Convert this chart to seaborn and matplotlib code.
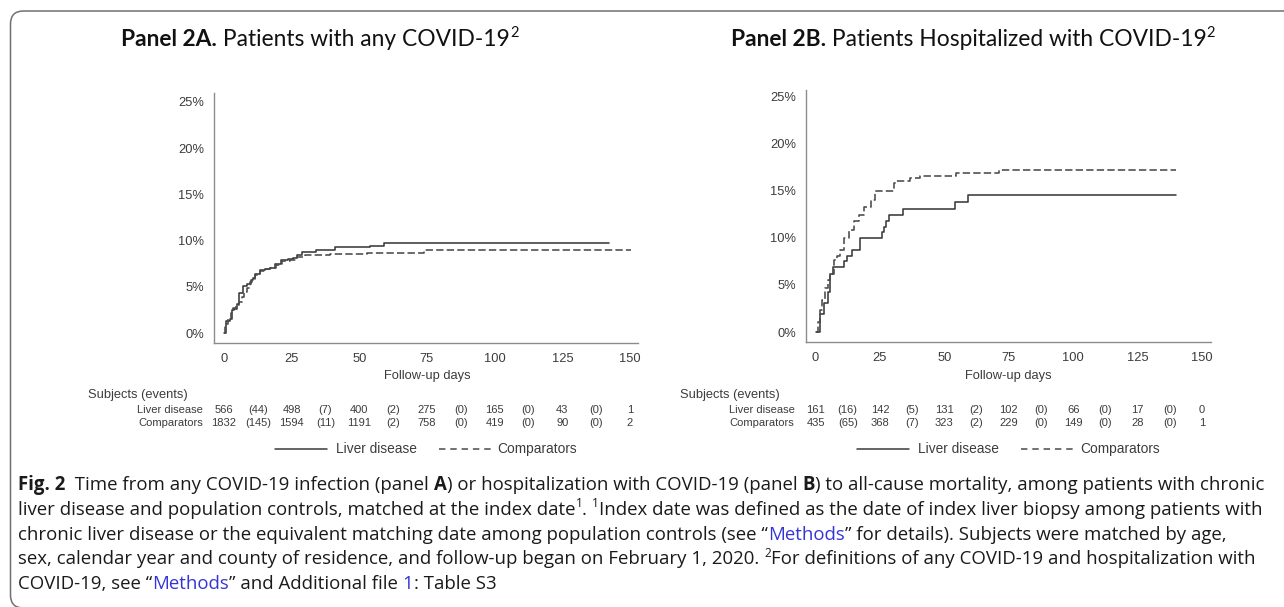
import numpy as np
import pandas as pd
import matplotlib
matplotlib.use("Agg")
import matplotlib.pyplot as plt
import seaborn as sns
from matplotlib import font_manager
from matplotlib.lines import Line2D
from matplotlib.patches import FancyBboxPatch
import matplotlib.transforms as mtransforms

# ---------------- data ----------------
x_ticks = [0, 25, 50, 75, 100, 125, 150]
y_ticks = [0, 5, 10, 15, 20, 25]
groups = ["Liver disease", "Comparators"]

# Panel A: any COVID-19 (cumulative mortality, %)
a_liver_days = [0, 0.7, 2.2, 3.0, 3.8, 4.7, 5.7, 6.9, 8.4, 9.9, 10.8, 11.6, 13.3, 15.0, 17.0,
                18.9, 21.0, 23.5, 25.5, 26.9, 28.8, 34.0, 40.9, 54.1, 59.0, 142.3]
a_liver_pct = [0, 1.35, 1.5, 2.5, 2.6, 3.1, 4.3, 5.1, 5.3, 5.7, 5.9, 6.4, 6.8, 6.9, 7.0,
               7.5, 7.9, 8.0, 8.1, 8.4, 8.8, 9.0, 9.3, 9.45, 9.7, 9.7]
a_comp_days = [0, 0.5, 1.5, 2.5, 3.5, 4.5, 5.5, 6.5, 7.5, 8.4, 9.6, 10.5, 11.6, 13.3, 15.0,
               17.0, 19.3, 21.4, 24.4, 26.9, 30.0, 39.3, 52.8, 73.8, 150.4]
a_comp_pct = [0, 1.0, 1.5, 2.2, 2.7, 3.0, 3.4, 3.9, 4.4, 4.9, 5.5, 5.8, 6.3, 6.7, 6.9,
              7.0, 7.4, 7.8, 7.9, 8.2, 8.4, 8.6, 8.7, 8.95, 8.95]

# Panel B: hospitalized with COVID-19
b_liver_days = [0, 1.9, 3.2, 5.0, 5.8, 6.8, 11.0, 12.3, 14.0, 17.1, 25.8, 26.7, 27.4, 28.4,
                34.0, 54.0, 59.0, 140.0]
b_liver_pct = [0, 1.9, 3.1, 4.3, 6.2, 6.9, 7.5, 8.1, 8.7, 10.0, 10.6, 11.2, 11.8, 12.4,
               13.1, 13.8, 14.5, 14.5]
b_comp_days = [0, 1.0, 1.7, 2.6, 3.6, 4.8, 5.8, 7.1, 8.4, 9.7, 11.0, 12.9, 14.9, 16.8, 19.0,
               21.7, 23.0, 30.4, 31.4, 36.8, 40.7, 54.5, 71.1, 140.0]
b_comp_pct = [0, 1.1, 2.3, 3.4, 4.7, 5.5, 6.2, 7.6, 8.1, 8.7, 10.0, 10.8, 11.8, 12.4, 13.3,
              14.0, 15.0, 15.8, 16.0, 16.4, 16.6, 16.9, 17.2, 17.2]

# risk tables: subjects at each tick, (events) in each interval
a_liver_n = [566, 498, 400, 275, 165, 43, 1]
a_liver_ev = [44, 7, 2, 0, 0, 0]
a_comp_n = [1832, 1594, 1191, 758, 419, 90, 2]
a_comp_ev = [145, 11, 2, 0, 0, 0]
b_liver_n = [161, 142, 131, 102, 66, 17, 0]
b_liver_ev = [16, 5, 2, 0, 0, 0]
b_comp_n = [435, 368, 323, 229, 149, 28, 1]
b_comp_ev = [65, 7, 2, 0, 0, 0]

title_a = [("Panel 2A.", "b"), (" Patients with any COVID-19", "n"), ("2", "sup")]
title_b = [("Panel 2B.", "b"), (" Patients Hospitalized with COVID-19", "n"), ("2", "sup")]
x_label = "Follow-up days"
risk_header = "Subjects (events)"

caption_lines = [
    [("Fig. 2", "b"), ("  Time from any COVID-19 infection (panel ", "n"), ("A", "b"),
     (") or hospitalization with COVID-19 (panel ", "n"), ("B", "b"),
     (") to all-cause mortality, among patients with chronic", "n")],
    [("liver disease and population controls, matched at the index date", "n"), ("1", "sup"),
     (". ", "n"), ("1", "sup"),
     ("Index date was defined as the date of index liver biopsy among patients with", "n")],
    [("chronic liver disease or the equivalent matching date among population controls (see \u201c", "n"),
     ("Methods", "blue"), ("\u201d for details). Subjects were matched by age,", "n")],
    [("sex, calendar year and county of residence, and follow-up began on February 1, 2020. ", "n"),
     ("2", "sup"), ("For definitions of any COVID-19 and hospitalization with", "n")],
    [("COVID-19, see \u201c", "n"), ("Methods", "blue"), ("\u201d and Additional file ", "n"),
     ("1", "blue"), (": Table S3", "n")],
]

# ---------------- fonts ----------------
avail = {f.name for f in font_manager.fontManager.ttflist}


def pick(*names):
    for n in names:
        if n in avail:
            return n
    return "DejaVu Sans"


F_AX = pick("Liberation Sans", "Arimo", "DejaVu Sans")
F_TITLE = pick("Lato", "Open Sans")
F_CAP = pick("Open Sans", "Noto Sans")

sns.set_theme(style="white")
plt.rcParams["font.family"] = [F_AX, "DejaVu Sans"]

W, H = 1284, 607
fig = plt.figure(figsize=(W / 100, H / 100), dpi=100)
fig.patch.set_facecolor("white")
renderer = fig.canvas.get_renderer()
PT = 100 / 72.0


def text_width(s, **props):
    t = fig.text(0, 0, "|" + s + "|", **props)
    w1 = t.get_window_extent(renderer).width
    t.set_text("||")
    w2 = t.get_window_extent(renderer).width
    t.remove()
    return w1 - w2


def run_props(kind, family, size, color):
    if kind == "b":
        return dict(family=family, size=size, weight="bold", color=color), 0.0
    if kind == "sup":
        return dict(family=family, size=size * 0.64, color=color), size * 0.40
    if kind == "blue":
        return dict(family=family, size=size, color="#3535d6"), 0.0
    return dict(family=family, size=size, color=color), 0.0


def runs_width(runs, family, size, color="black"):
    return sum(text_width(t, **run_props(k, family, size, color)[0]) for t, k in runs)


def draw_runs(runs, x_px, y_base_px, family, size, color="black"):
    cur = x_px
    for t, k in runs:
        props, rise = run_props(k, family, size, color)
        fig.text(cur / W, 1 - (y_base_px - rise * PT) / H, t, va="baseline", ha="left", **props)
        cur += text_width(t, **props)
    return cur


# ---------------- frame ----------------
box = FancyBboxPatch((10.5 / 100, (H - 608) / 100), (1300 - 10.5) / 100, (608 - 11) / 100,
                     boxstyle="round,pad=0,rounding_size=0.13", transform=fig.dpi_scale_trans,
                     facecolor="none", edgecolor="#707070", linewidth=1.1)
fig.add_artist(box)

# ---------------- panels ----------------
LINE_COL = "#3a3a3a"
AX_COL = "#8c8c8c"
TXT_COL = "#3c3c3c"
panels = [
    dict(rect=(214, 93, 638, 343), xlim=(-3.69, 152.96), ylim=(-1.08, 25.97),
         liver=(a_liver_days, a_liver_pct), comp=(a_comp_days, a_comp_pct),
         rn=(a_liver_n, a_comp_n), rev=(a_liver_ev, a_comp_ev), title=title_a, tcx=320),
    dict(rect=(806, 90, 1211, 342), xlim=(-3.69, 153.5), ylim=(-1.06, 25.7),
         liver=(b_liver_days, b_liver_pct), comp=(b_comp_days, b_comp_pct),
         rn=(b_liver_n, b_comp_n), rev=(b_liver_ev, b_comp_ev), title=title_b, tcx=973),
]

# title size fitted
t_size = 14.0
wa = runs_width(title_a, F_TITLE, t_size)
t_size = t_size * 398 / wa

for p in panels:
    x0, y0, x1, y1 = p["rect"]
    ax = fig.add_axes([x0 / W, 1 - y1 / H, (x1 - x0) / W, (y1 - y0) / H])
    df = pd.concat([
        pd.DataFrame({"day": p["liver"][0], "pct": p["liver"][1], "group": groups[0]}),
        pd.DataFrame({"day": p["comp"][0], "pct": p["comp"][1], "group": groups[1]}),
    ])
    sns.lineplot(data=df, x="day", y="pct", hue="group", style="group",
                 palette={groups[0]: LINE_COL, groups[1]: "#4a4a4a"},
                 dashes={groups[0]: "", groups[1]: (4.6, 2.0)},
                 drawstyle="steps-post", estimator=None, sort=False, legend=False,
                 linewidth=1.15, ax=ax)
    ax.set_xlim(p["xlim"])
    ax.set_ylim(p["ylim"])
    ax.set_xticks(x_ticks)
    ax.set_xticklabels([str(v) for v in x_ticks])
    ax.set_yticks(y_ticks)
    ax.set_yticklabels([f"{v}%" for v in y_ticks])
    for s in ["top", "right"]:
        ax.spines[s].set_visible(False)
    for s in ["left", "bottom"]:
        ax.spines[s].set_color(AX_COL)
        ax.spines[s].set_linewidth(1.0)
    ax.tick_params(axis="both", direction="out", length=4.2, width=0.9, color=AX_COL,
                   labelsize=9.3, labelcolor=TXT_COL, pad=3)
    ax.set_xlabel("")
    ax.set_ylabel("")
    ax.grid(False)
    ax.set_facecolor("none")

    tr = mtransforms.blended_transform_factory(ax.transData, fig.transFigure)
    xc = (x_ticks[0] + x_ticks[-1]) / 2
    ax.text(xc, 1 - 376 / H, x_label, transform=tr, ha="center", va="center",
            size=9.3, color=TXT_COL, family=F_AX)

    # risk table
    x_tick0_px = ax.transData.transform((x_ticks[0], 0))[0]
    fig.text((x_tick0_px - 136) / W, 1 - 395 / H, risk_header, ha="left", va="center",
             size=9.3, color=TXT_COL, family=F_AX)
    for r, (ns, evs) in enumerate(zip(p["rn"], p["rev"])):
        yy = 1 - (410 + 12.5 * r) / H
        fig.text((x_tick0_px - 21) / W, yy, groups[r], ha="right", va="center",
                 size=8.0, color=TXT_COL, family=F_AX)
        for i, n in enumerate(ns):
            ax.text(x_ticks[i], yy, str(n), transform=tr, ha="center", va="center",
                    size=8.0, color=TXT_COL, family=F_AX)
        for i, e in enumerate(evs):
            ax.text((x_ticks[i] + x_ticks[i + 1]) / 2, yy, f"({e})", transform=tr,
                    ha="center", va="center", size=8.0, color=TXT_COL, family=F_AX)

    # legend (centred under plot region)
    lg_size = 9.9
    w_l = text_width(groups[0], family=F_AX, size=lg_size)
    w_c = text_width(groups[1], family=F_AX, size=lg_size)
    seg = 52
    total = seg + 9 + w_l + 22 + seg + 7 + w_c
    cx = (x0 + x1) / 2
    sx = cx - total / 2
    ly = 1 - 449 / H
    fig.add_artist(Line2D([sx / W, (sx + seg) / W], [ly, ly], color=LINE_COL, lw=1.1))
    fig.text((sx + seg + 9) / W, ly, groups[0], ha="left", va="center", size=lg_size,
             color=TXT_COL, family=F_AX)
    dx = sx + seg + 9 + w_l + 22
    fig.add_artist(Line2D([dx / W, (dx + seg) / W], [ly, ly], color="#4a4a4a", lw=1.1,
                          dashes=(4.2, 3.2)))
    fig.text((dx + seg + 7) / W, ly, groups[1], ha="left", va="center", size=lg_size,
             color=TXT_COL, family=F_AX)

    # panel title
    tw = runs_width(p["title"], F_TITLE, t_size)
    draw_runs(p["title"], p["tcx"] - tw / 2, 46, F_TITLE, t_size, "#111111")

# ---------------- caption ----------------
c_size = 11.5
w1 = runs_width(caption_lines[0], F_CAP, c_size)
c_size = c_size * (1262 - 18) / w1
for i, line in enumerate(caption_lines):
    draw_runs(line, 18, 490 + 24.8 * i, F_CAP, c_size, "#1a1a1a")

fig.savefig("out.png", dpi=100, facecolor="white")
